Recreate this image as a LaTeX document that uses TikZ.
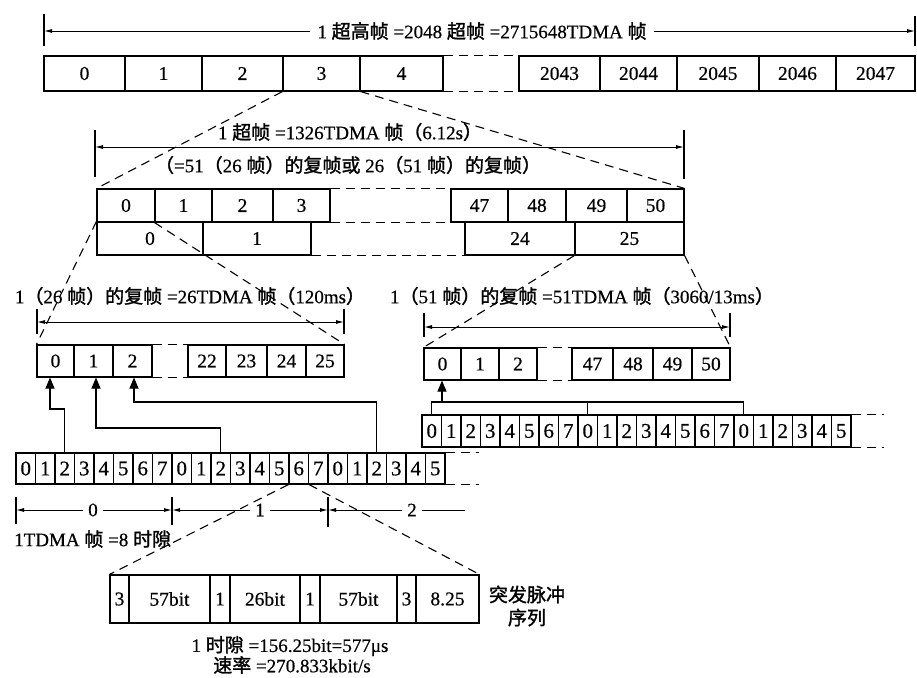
\documentclass[tikz,border=0pt]{standalone}
\usepackage{fontspec}
\setmainfont[FakeBold=0.5]{Liberation Serif}
\newfontfamily\cjk[FakeBold=1.4]{Noto Sans CJK SC}
\newcommand\zh[1]{{\cjk #1}}
\usetikzlibrary{arrows.meta}
\tikzset{
  lw/.style={line width=1.1pt},
  box/.style={draw,line width=1.1pt,inner sep=0pt,font=\fontsize{19.5}{20}\selectfont},
  slot/.style={draw,line width=1.1pt,inner sep=0pt,minimum width=19.5pt,minimum height=#1,font=\fontsize{21}{22}\selectfont},
  lbl/.style={inner sep=0pt,font=\fontsize{19}{23}\selectfont},
  dsh/.style={line width=1.1pt,dash pattern=on 9pt off 6pt},
  tip/.tip={Latex[length=8pt,width=4pt]},
  dimone/.style={line width=0.9pt,-tip},
  dimtwo/.style={line width=0.9pt,tip-tip},
  uparr/.style={line width=1.1pt,-{Triangle[length=11pt,width=9pt]}},
}
\newcommand\bx[6]{\node[box,minimum width={(#3)-(#2)},minimum height={(#5)-(#4)}] (#1) at ({((#2)+(#3))/2},{((#4)+(#5))/2}) {#6};}
\begin{document}
\begin{tikzpicture}[x=1pt,y=-1pt]
\useasboundingbox (0,0) rectangle (917,677);

% ---------- super-hyperframe ----------
\node[lbl,inner sep=7pt] (ttl) at (482,31) {1 \zh{超高帧} =2048 \zh{超帧} =2715648TDMA \zh{帧}};
\coordinate (tA) at (44,31);
\coordinate (tB) at (915,31);
\draw[dimone] (ttl.west) -- (tA);
\draw[dimone] (ttl.east) -- (tB);
\draw[lw] (44,14) -- (44,46);
\draw[lw] (915,16) -- (915,46);

\bx{t0}{44}{125}{56}{91}{0}
\bx{t1}{125}{202}{56}{91}{1}
\bx{t2}{202}{283}{56}{91}{2}
\bx{t3}{283}{360}{56}{91}{3}
\bx{t4}{360}{443}{56}{91}{4}
\bx{t5}{519}{600}{56}{91}{2043}
\bx{t6}{600}{677}{56}{91}{2044}
\bx{t7}{677}{759}{56}{91}{2045}
\bx{t8}{759}{836}{56}{91}{2046}
\bx{t9}{836}{915}{56}{91}{2047}
\draw[dsh] (t4.north east) -- (t5.north west);
\draw[dsh] (t4.south east) -- (t5.south west);

% ---------- superframe ----------
\node[lbl] (sf1) at (350,132) {1 \zh{超帧} =1326TDMA \zh{帧（}6.12s\zh{）}};
\node[lbl] (sf2) at (348,165) {\zh{（}=51\zh{（}26 \zh{帧）的复帧或} 26\zh{（}51 \zh{帧）的复帧）}};
\coordinate (sL) at (95,147);
\coordinate (sR) at (684,147);
\draw[dimtwo] (sL) -- (sR);
\draw[lw] (95,130) -- (95,177);
\draw[lw] (684,130) -- (684,179);

\bx{u0}{97}{155}{189}{222}{0}
\bx{u1}{155}{212}{189}{222}{1}
\bx{u2}{212}{273}{189}{222}{2}
\bx{u3}{273}{330}{189}{222}{3}
\bx{u4}{451}{508}{189}{222}{47}
\bx{u5}{508}{566}{189}{222}{48}
\bx{u6}{566}{627}{189}{222}{49}
\bx{u7}{627}{684}{189}{222}{50}
\draw[dsh] (u3.north east) -- (u4.north west);
\draw[dsh] (u3.south east) -- (u4.south west);

\bx{v0}{97}{203}{222}{255}{0}
\bx{v1}{203}{311}{222}{255}{1}
\bx{v2}{465}{575}{222}{255}{24}
\bx{v3}{575}{684}{222}{255}{25}
\draw[dsh] (v1.south east) -- (v2.south west);

\draw[dsh] (t3.south west) -- (u0.north west);
\draw[dsh] (t3.south east) -- (u7.north east);

% ---------- 26-frame multiframe ----------
\node[lbl] (mf26) at (190,296) {1\zh{（}26 \zh{帧）的复帧} =26TDMA \zh{帧（}120ms\zh{）}};
\coordinate (mL) at (37,322);
\coordinate (mR) at (344,322);
\draw[dimtwo] (mL) -- (mR);
\draw[lw] (37,309) -- (37,334);
\draw[lw] (344,309) -- (344,334);

\bx{m0}{37}{74}{345}{377}{0}
\bx{m1}{74}{113}{345}{377}{1}
\bx{m2}{113}{152}{345}{377}{2}
\bx{m3}{188}{226}{345}{377}{22}
\bx{m4}{226}{267}{345}{377}{23}
\bx{m5}{267}{306}{345}{377}{24}
\bx{m6}{306}{344}{345}{377}{25}
\draw[dsh] (m2.north east) -- (m3.north west);
\draw[dsh] (m2.south east) -- (m3.south west);

\draw[dsh] (v0.north west) -- (m0.north west);
\draw[dsh] (u1.south west) -- (m6.north east);

% ---------- 51-frame multiframe ----------
\node[lbl] (mf51) at (582,296) {1\zh{（}51 \zh{帧）的复帧} =51TDMA \zh{帧（}3060/13ms\zh{）}};
\coordinate (nL) at (424,327);
\coordinate (nR) at (730,327);
\draw[dimtwo] (nL) -- (nR);
\draw[lw] (424,313) -- (424,337);
\draw[lw] (730,313) -- (730,337);

\bx{n0}{424}{461}{348}{380}{0}
\bx{n1}{461}{499}{348}{380}{1}
\bx{n2}{499}{537}{348}{380}{2}
\bx{n3}{572}{613}{348}{380}{47}
\bx{n4}{613}{653}{348}{380}{48}
\bx{n5}{653}{692}{348}{380}{49}
\bx{n6}{692}{730}{348}{380}{50}
\draw[dsh] (n2.north east) -- (n3.north west);
\draw[dsh] (n2.south east) -- (n3.south west);

\draw[dsh] (v3.south west) -- (n0.north west);
\draw[dsh] (v3.south east) -- (n6.north east);

% ---------- timeslot rows ----------
\foreach \i in {0,...,21} {
  \pgfmathtruncatemacro\l{mod(\i,8)}
  \node[slot=31pt] (sA\i) at ({16+19.5*\i+9.75},468.5) {\l};
  \node[slot=32pt] (sB\i) at ({422+19.5*\i+9.75},431) {\l};
}
\draw[dsh] (sA21.north east) -- ++(33,0);
\draw[dsh] (sA21.south east) -- ++(33,0);
\draw[dsh] (sB21.north east) -- ++(32,0);
\draw[dsh] (sB21.south east) -- ++(32,0);

% mapping arrows (26)
\coordinate (q0) at (50,409);
\coordinate (q1) at (96,428);
\coordinate (q2) at (134,402);
\draw[uparr] (sA2.north) |- (q0) -- (q0 |- m0.south);
\draw[uparr] (sA10.north) |- (q1) -- (q1 |- m1.south);
\draw[uparr] (sA18.north) |- (q2) -- (q2 |- m2.south);

% mapping (51)
\coordinate (r0) at (442,402);
\draw[lw] (sB0.north) -- (sB0.north |- r0) -- (sB16.north |- r0) -- (sB16.north);
\draw[lw] (sB8.north) -- (sB8.north |- r0);
\draw[uparr] (r0) -- (r0 |- n0.south);

% ---------- TDMA frame markers ----------
\node[lbl,inner sep=5pt] (f0) at (93,510) {0};
\node[lbl,inner sep=5pt] (f1) at (260,510) {1};
\node[lbl,inner sep=5pt] (f2) at (412,510) {2};
\coordinate (k0) at (16,510);
\coordinate (k1) at (172,510);
\coordinate (k2) at (328,510);
\coordinate (k3) at (465,510);
\draw[dimone] (f0.west) -- (k0);
\draw[dimone] (f0.east) -- (k1);
\draw[dimone] (f1.west) -- (k1);
\draw[dimone] (f1.east) -- (k2);
\draw[dimone] (f2.west) -- (k2);
\draw[line width=0.9pt] (f2.east) -- (k3);
\draw[lw] (16,497) -- (16,524);
\draw[lw] (172,497) -- (172,525);
\draw[lw] (328,497) -- (328,527);
\node[lbl,anchor=west] (tdma) at (14,539) {1TDMA \zh{帧} =8 \zh{时隙}};

% ---------- burst ----------
\bx{b0}{110}{129}{575}{623}{3}
\bx{b1}{129}{210}{575}{623}{57bit}
\bx{b2}{210}{230}{575}{623}{1}
\bx{b3}{230}{300}{575}{623}{26bit}
\bx{b4}{300}{320}{575}{623}{1}
\bx{b5}{320}{397}{575}{623}{57bit}
\bx{b6}{397}{416}{575}{623}{3}
\bx{b7}{416}{479}{575}{623}{8.25}
\draw[dsh] (sA14.south west) -- (b0.north west);
\draw[dsh] (sA14.south east) -- (b7.north east);

\node[lbl,align=center] (bn) at (527,606) {\zh{突发脉冲}\\\zh{序列}};
\node[lbl] (ts) at (290,646) {1 \zh{时隙} =156.25bit=577μs};
\node[lbl] (rate) at (292,665) {\zh{速率} =270.833kbit/s};
\end{tikzpicture}
\end{document}
